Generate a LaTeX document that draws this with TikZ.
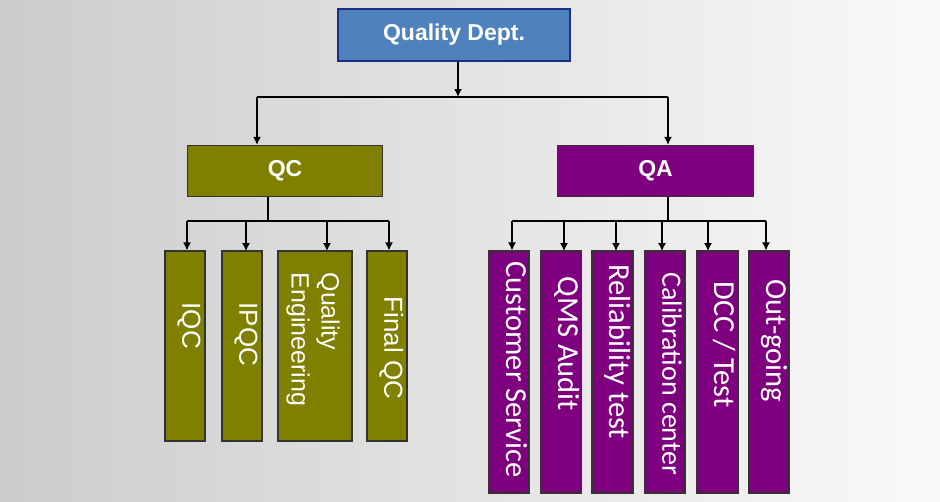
\documentclass[tikz,border=0pt]{standalone}
\usepackage{fontspec}
\setmainfont{Liberation Sans}
\newfontfamily\calibri{Carlito}
\usetikzlibrary{positioning,arrows.meta}

\definecolor{deptblue}{HTML}{4F81BD}
\definecolor{deptedge}{HTML}{1C2F86}
\definecolor{qcolive}{HTML}{7F7F00}
\definecolor{qapurple}{HTML}{7F007F}

\tikzset{
  headbox/.style={rectangle, draw=deptedge, line width=2.5pt, fill=deptblue, text=white,
    font=\fontsize{23}{27}\selectfont\bfseries, minimum width=232pt, minimum height=52pt},
  qcbox/.style={rectangle, draw=black!80, line width=1.2pt, fill=qcolive, text=white,
    font=\fontsize{23}{27}\selectfont\bfseries},
  qabox/.style={rectangle, draw=black!80, line width=1.2pt, fill=qapurple, text=white,
    font=\fontsize{23}{27}\selectfont\bfseries},
  qctext/.style={rotate=-90, anchor=mid west, inner sep=0pt, text=white, align=left,
    font=\fontsize{26}{30}\selectfont},
  qatext/.style={rotate=-90, anchor=mid west, inner sep=0pt, text=white,
    font=\calibri\fontsize{30.5}{34}\selectfont},
}

\begin{document}
\begin{tikzpicture}[x=1pt, y=-1pt, >={Latex[length=8pt, width=8pt]}]
\useasboundingbox (0,0) rectangle (940,501);
\shade[left color=black!20, middle color=black!7, right color=black!2] (0,0) rectangle (940,501);

% top level
\node[headbox] (dept) at (454,35) {Quality Dept.};
\node[qcbox, minimum width=195pt, minimum height=51pt] (qc) at (285,171) {QC};
\node[qabox, minimum width=196pt, minimum height=51pt] (qa) at (655.5,171) {QA};

\coordinate (hub) at (458,97);
\coordinate (hubl) at (257,97);
\coordinate (hubr) at (668,97);
\draw[line width=2.8pt, ->] (dept.south -| hub) -- (hub);
\draw[line width=2.8pt] (hubl) -- (hubr);
\draw[line width=2.8pt, ->] (hubl) -- (hubl |- qc.north);
\draw[line width=2.8pt, ->] (hubr) -- (hubr |- qa.north);

% QC branch
\node[qcbox, minimum width=40pt, minimum height=190pt] (iqc) at (185,346) {};
\node[qcbox, minimum width=40pt, minimum height=190pt] (ipqc) at (242,346) {};
\node[qcbox, minimum width=74pt, minimum height=190pt] (qe) at (315,346) {};
\node[qcbox, minimum width=40pt, minimum height=190pt] (fqc) at (387,346) {};

\node[qctext] (iqc-t) at ([yshift=-52pt]iqc.north) {IQC};
\node[qctext] (ipqc-t) at ([yshift=-52pt]ipqc.north) {IPQC};
\node[qctext, anchor=west, font=\fontsize{25}{30}\selectfont] (qe-t) at ([xshift=-2pt, yshift=-22pt]qe.north) {Quality\\Engineering};
\node[qctext] (fqc-t) at ([yshift=-46pt]fqc.north) {Final QC};

\coordinate (qcbus) at (268,221);
\coordinate (qcbus-l) at (187,221);
\coordinate (qcbus-r) at (389,221);
\draw[line width=1.2pt] (qc.south -| qcbus) -- (qcbus);
\draw[line width=1.2pt] (qcbus-l) -- (qcbus-r);
\draw[line width=1.2pt, ->] (qcbus-l) -- (qcbus-l |- iqc.north);
\draw[line width=1.2pt, ->] (246,221) -- (246,251);
\draw[line width=1.2pt, ->] (327,221) -- (327,251);
\draw[line width=1.2pt, ->] (qcbus-r) -- (qcbus-r |- fqc.north);

% QA branch
\node[qabox, minimum width=40pt, minimum height=242pt] (cs) at (509,372) {};
\node[qabox, minimum width=41pt, minimum height=242pt] (qms) at (561,372) {};
\node[qabox, minimum width=41pt, minimum height=242pt] (rel) at (612.5,372) {};
\node[qabox, minimum width=40pt, minimum height=242pt] (cal) at (665,372) {};
\node[qabox, minimum width=41pt, minimum height=242pt] (dcc) at (717.5,372) {};
\node[qabox, minimum width=40pt, minimum height=242pt] (out) at (769,372) {};

\node[qatext] (cs-t) at ([yshift=-11pt]cs.north) {Customer Service};
\node[qatext] (qms-t) at ([yshift=-26pt]qms.north) {QMS Audit};
\node[qatext] (rel-t) at ([yshift=-14pt]rel.north) {Reliability test};
\node[qatext, font=\calibri\fontsize{28}{32}\selectfont] (cal-t) at ([yshift=-22pt]cal.north) {Calibration center};
\node[qatext] (dcc-t) at ([yshift=-31pt]dcc.north) {DCC / Test};
\node[qatext] (out-t) at ([yshift=-29pt]out.north) {Out-going};

\coordinate (qabus) at (668,221);
\coordinate (qabus-l) at (512,221);
\coordinate (qabus-r) at (766,221);
\draw[line width=1.2pt] (qa.south -| qabus) -- (qabus);
\draw[line width=1.2pt] (qabus-l) -- (qabus-r);
\draw[line width=1.2pt, ->] (qabus-l) -- (qabus-l |- cs.north);
\draw[line width=1.2pt, ->] (564,221) -- (564,251);
\draw[line width=1.2pt, ->] (616,221) -- (616,251);
\draw[line width=1.2pt, ->] (662,221) -- (662,251);
\draw[line width=1.2pt, ->] (708,221) -- (708,251);
\draw[line width=1.2pt, ->] (qabus-r) -- (qabus-r |- out.north);
\end{tikzpicture}
\end{document}
